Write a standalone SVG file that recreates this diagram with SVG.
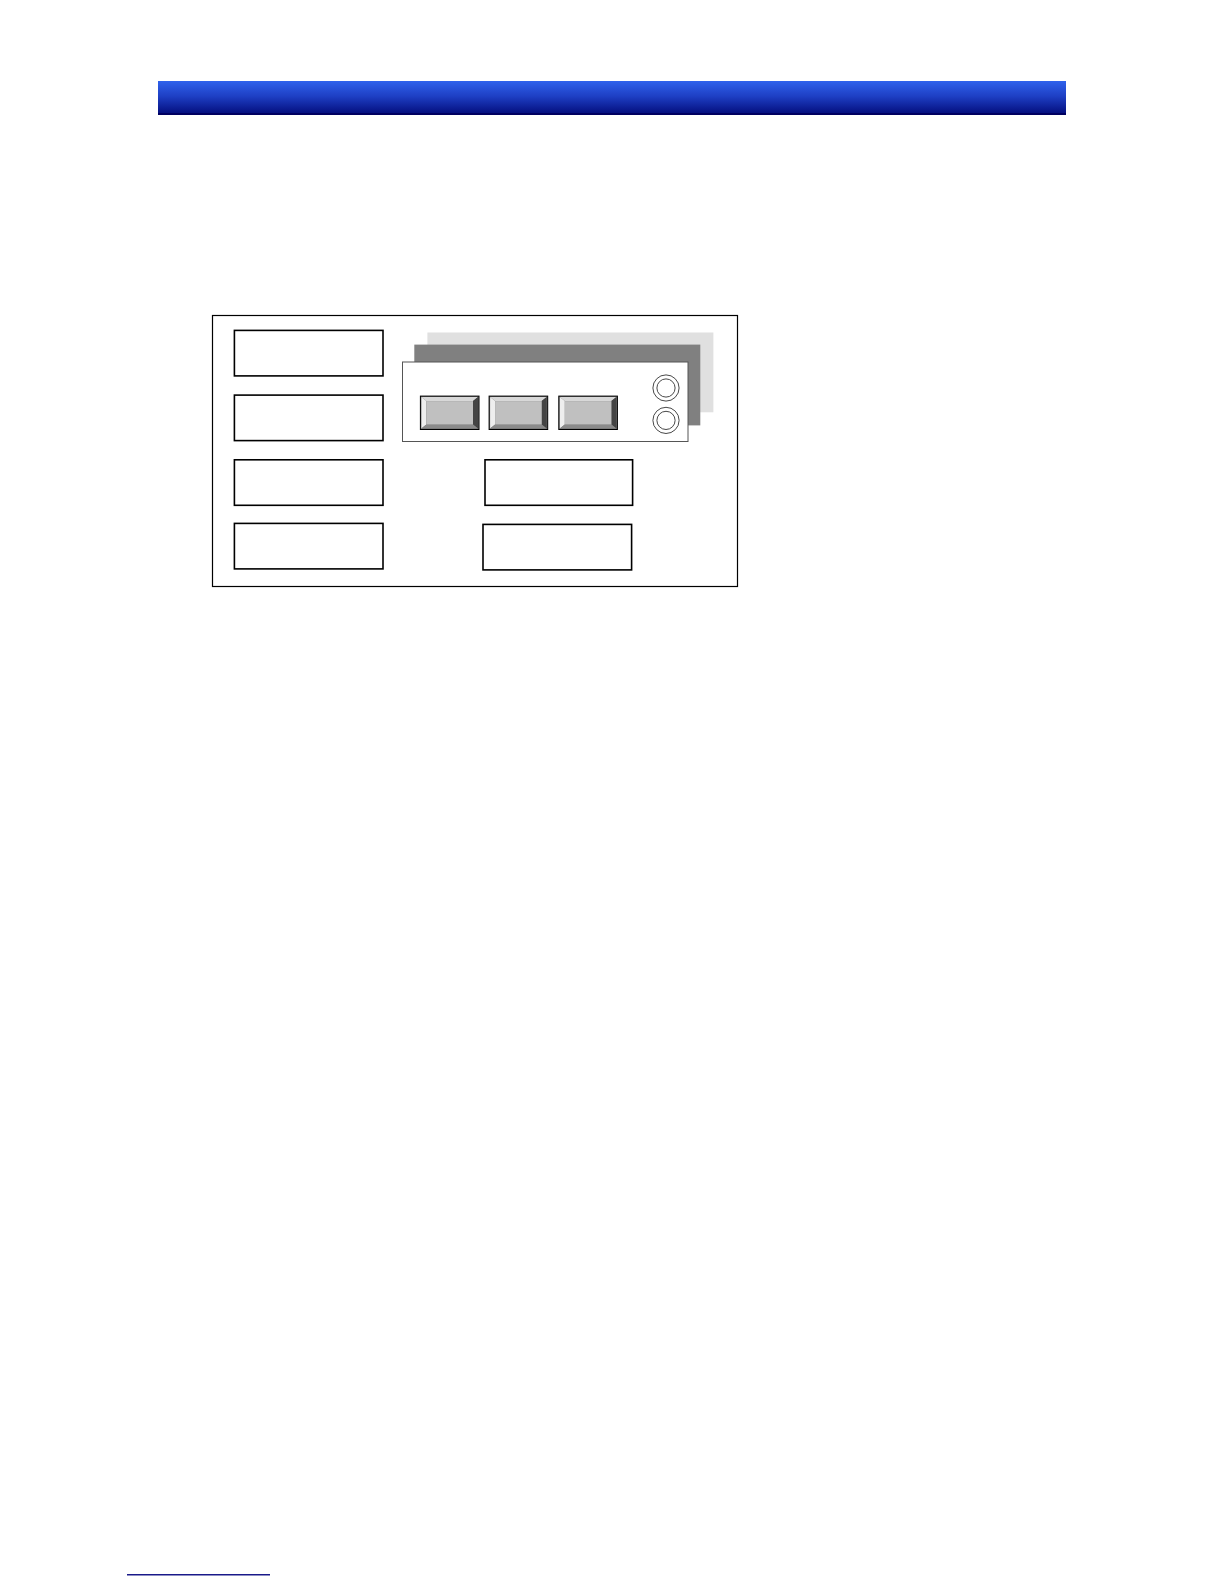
<svg xmlns="http://www.w3.org/2000/svg" width="1224" height="1584" viewBox="0 0 1224 1584">
<defs>
<linearGradient id="hdr" x1="0" y1="0" x2="0" y2="1">
<stop offset="0" stop-color="#2f62ec"/>
<stop offset="0.45" stop-color="#1e3fc4"/>
<stop offset="1" stop-color="#020a78"/>
</linearGradient>
<style>
.box{fill:#ffffff;stroke:#000000;stroke-width:1.6}
.btnface{fill:#c0c0c0}
.ring{fill:none;stroke:#333333;stroke-width:0.9}
</style>
<g id="btn">
<rect x="0" y="0" width="58.6" height="33.4" fill="#6a6a6a" stroke="#000" stroke-width="1"/>
<polygon points="1,1 57.6,1 52.6,5 6,5" fill="#d8d8d8"/>
<polygon points="1,1 6,5 6,28.4 1,32.4" fill="#eeeeee"/>
<polygon points="57.6,1 57.6,32.4 52.6,28.4 52.6,5" fill="#444444"/>
<polygon points="1,32.4 57.6,32.4 52.6,28.4 6,28.4" fill="#8a8a8a"/>
<rect x="6" y="5" width="46.6" height="23.4" class="btnface"/>
</g>
</defs>
<rect width="1224" height="1584" fill="#ffffff"/>
<g id="header">
<rect x="158" y="81" width="908" height="34" fill="url(#hdr)"/>
<rect x="158" y="113" width="908" height="2" fill="#000060"/>
</g>
<g id="frame">
<rect x="212.5" y="315.5" width="525" height="271" fill="#ffffff" stroke="#000" stroke-width="1.2"/>
</g>
<g id="box-l1"><rect class="box" x="234.4" y="330.4" width="148.6" height="45.5"/></g>
<g id="box-l2"><rect class="box" x="234.4" y="395.1" width="148.6" height="45.5"/></g>
<g id="box-l3"><rect class="box" x="234.4" y="459.8" width="148.6" height="45.5"/></g>
<g id="box-l4"><rect class="box" x="234.4" y="523.4" width="148.6" height="45.5"/></g>
<g id="box-r1"><rect class="box" x="485" y="459.8" width="147.6" height="45.5"/></g>
<g id="box-r2"><rect class="box" x="483" y="524.4" width="148.6" height="45.5"/></g>
<g id="panel">
<rect x="427.4" y="332.5" width="286" height="79.8" fill="#e0e0e0"/>
<rect x="414.3" y="344.6" width="286" height="80.8" fill="#808080"/>
<rect x="402.5" y="362" width="285.5" height="79.5" fill="#ffffff" stroke="#555555" stroke-width="1"/>
<use href="#btn" x="420.4" y="396.1"/>
<use href="#btn" x="489.1" y="396.1"/>
<use href="#btn" x="558.8" y="396.1"/>
<circle class="ring" cx="666" cy="388" r="13.1"/>
<circle class="ring" cx="666" cy="388" r="9.1"/>
<circle class="ring" cx="666" cy="420.4" r="13.1"/>
<circle class="ring" cx="666" cy="420.4" r="9.1"/>
</g>
<g id="connectors"></g>
<g id="footer">
<rect x="127" y="1574" width="143" height="1.5" fill="#1a1a8a"/>
</g>
</svg>
